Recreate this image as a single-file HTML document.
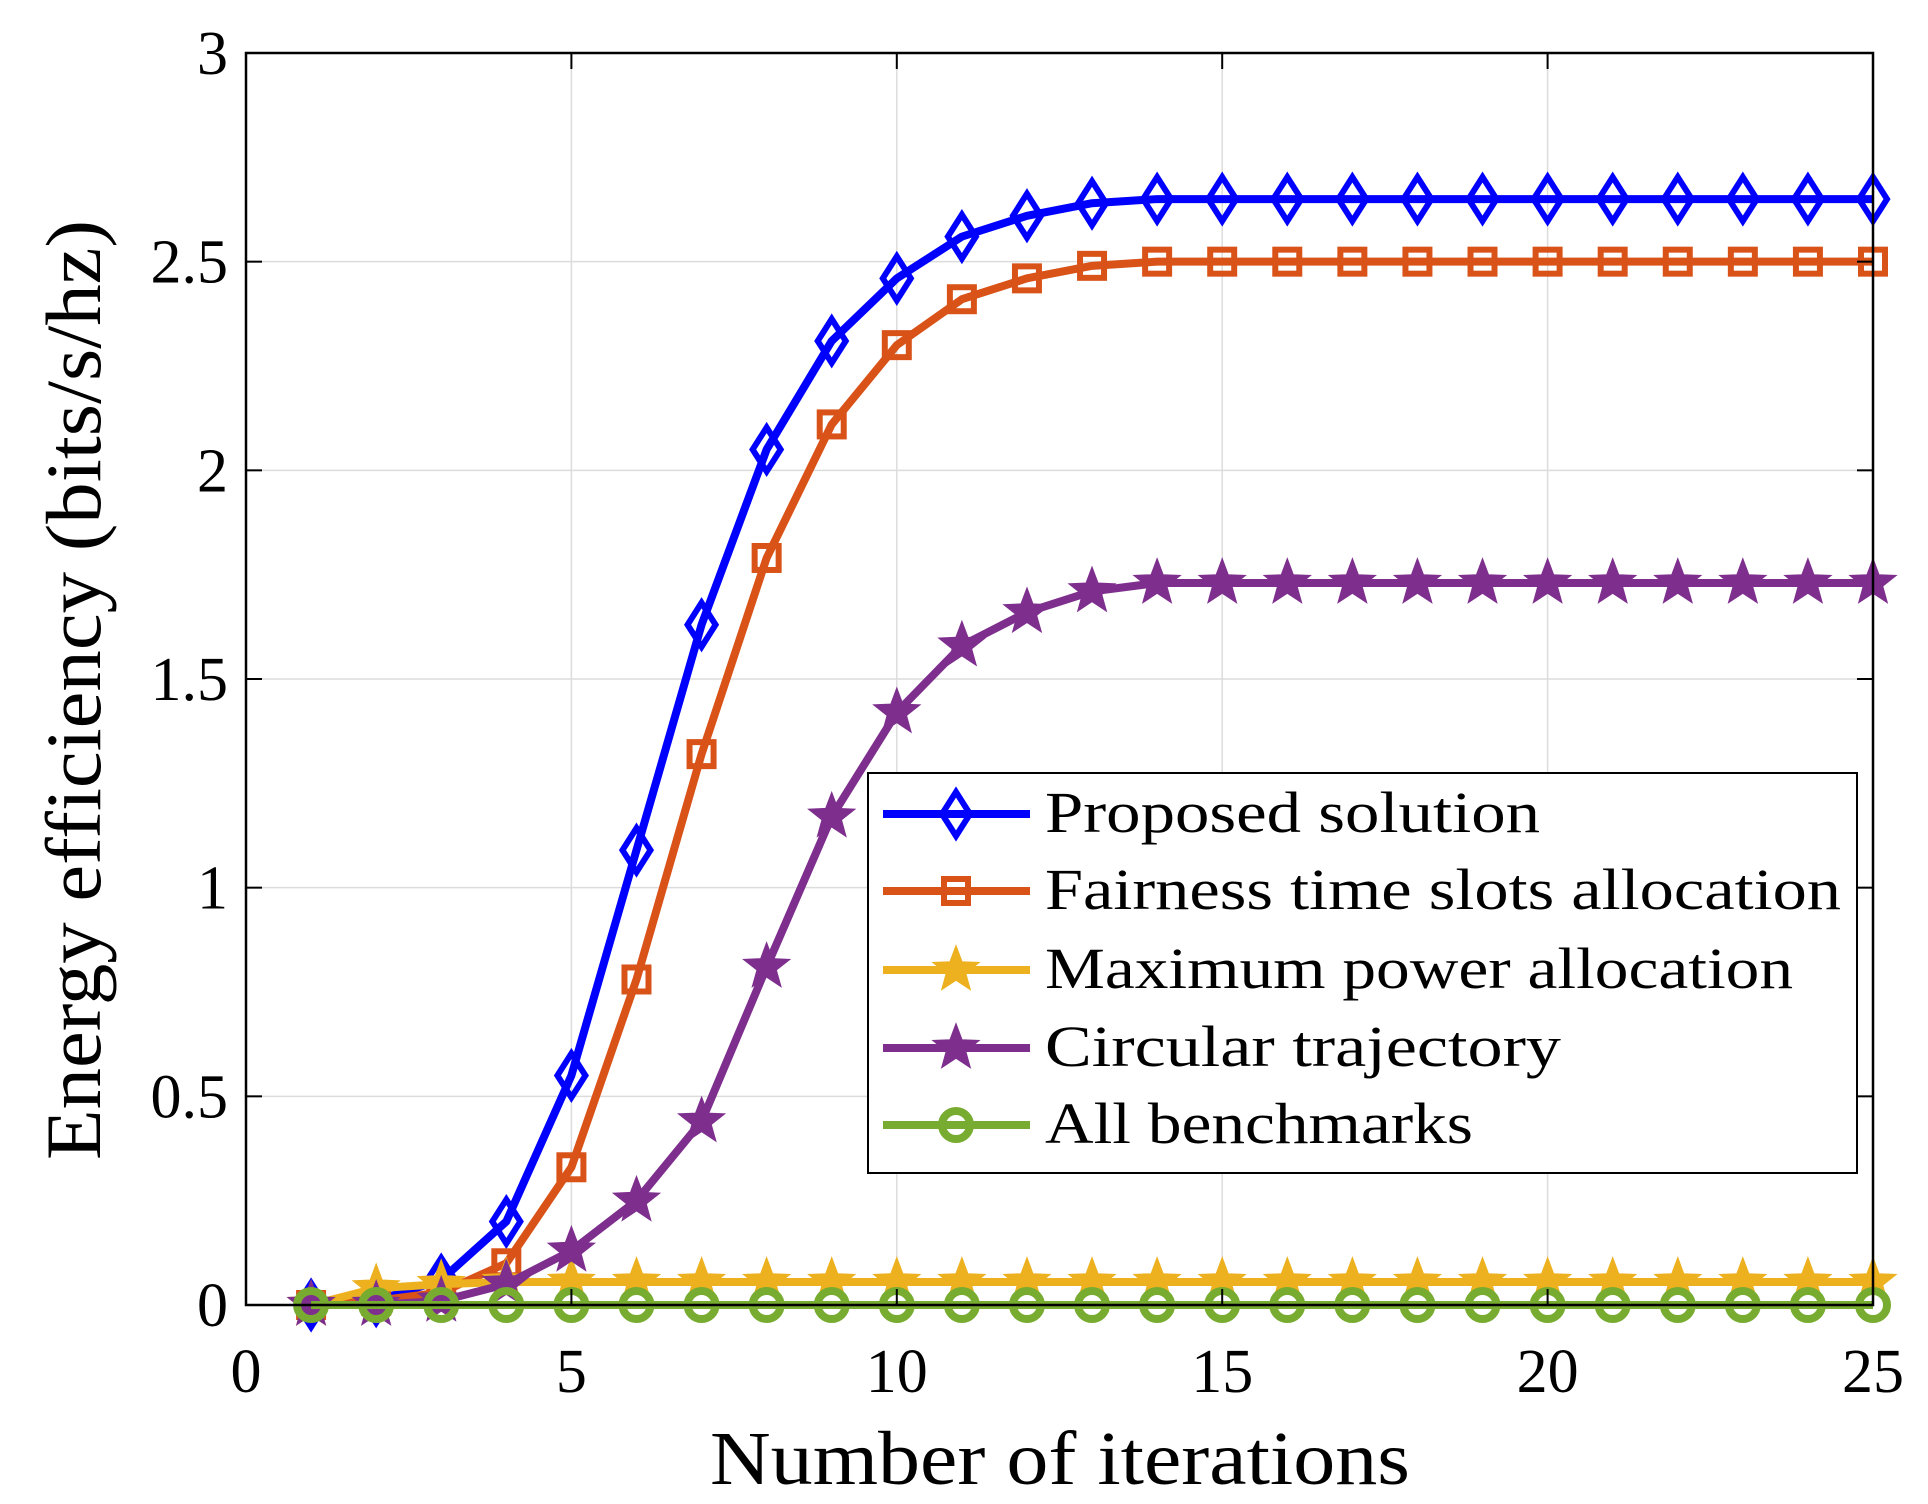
<!DOCTYPE html>
<html><head><meta charset="utf-8"><style>
html,body{margin:0;padding:0;background:#fff;}
svg{display:block;font-family:"Liberation Serif",serif;}
</style></head><body>
<svg id="chart" width="1928" height="1504" viewBox="0 0 1928 1504" xmlns="http://www.w3.org/2000/svg">
<rect width="1928" height="1504" fill="#fff"/>
<g id="grid"></g>
<g id="series"></g>
<rect x="246" y="53" width="1627" height="1252" fill="none" stroke="#000" stroke-width="2.5"/>
<g id="ticks"></g>
<text x="1060" y="1484" font-size="76" text-anchor="middle" textLength="700" lengthAdjust="spacingAndGlyphs">Number of iterations</text>
<text transform="translate(100,690) rotate(-90)" font-size="78" text-anchor="middle" textLength="940" lengthAdjust="spacingAndGlyphs">Energy efficiency (bits/s/hz)</text>
<g id="legend"></g>
</svg>
<script>
const iterations=[1,2,3,4,5,6,7,8,9,10,11,12,13,14,15,16,17,18,19,20,21,22,23,24,25];
const proposed=[0,0.01,0.06,0.2,0.55,1.09,1.63,2.05,2.31,2.46,2.56,2.61,2.64,2.65,2.65,2.65,2.65,2.65,2.65,2.65,2.65,2.65,2.65,2.65,2.65];
const fairness=[0,0.01,0.03,0.1,0.33,0.78,1.32,1.79,2.11,2.3,2.41,2.46,2.49,2.5,2.5,2.5,2.5,2.5,2.5,2.5,2.5,2.5,2.5,2.5,2.5];
const maxPower=[0,0.04,0.05,0.055,0.055,0.055,0.055,0.055,0.055,0.055,0.055,0.055,0.055,0.055,0.055,0.055,0.055,0.055,0.055,0.055,0.055,0.055,0.055,0.055,0.055];
const circular=[0,0,0.01,0.05,0.13,0.25,0.44,0.81,1.17,1.42,1.58,1.66,1.71,1.73,1.73,1.73,1.73,1.73,1.73,1.73,1.73,1.73,1.73,1.73,1.73];
const allBench=[0,0,0,0,0,0,0,0,0,0,0,0,0,0,0,0,0,0,0,0,0,0,0,0,0];
const xTicks=[0,5,10,15,20,25];
const yTicks=[0,0.5,1,1.5,2,2.5,3];
const yTickLabels=["0","0.5","1","1.5","2","2.5","3"];
const seriesNames=["Proposed solution","Fairness time slots allocation","Maximum power allocation","Circular trajectory","All benchmarks"];

const L=246,R=1873,T=53,B=1305;
const X=v=>L+(v-0)/(25-0)*(R-L);
const Y=v=>B-(v-0)/(3-0)*(B-T);
const NS="http://www.w3.org/2000/svg";
function mk(tag,attrs,parent){const e=document.createElementNS(NS,tag);for(const k in attrs)e.setAttribute(k,attrs[k]);parent.appendChild(e);return e;}
const grid=document.getElementById('grid'),ticks=document.getElementById('ticks'),ser=document.getElementById('series'),leg=document.getElementById('legend');
xTicks.forEach(t=>{
  const g=mk('line',{x1:X(t),x2:X(t),y1:T,y2:B,stroke:'#dcdcdc','stroke-width':1.5},grid);
  
  
  const a=mk('line',{x1:X(t),x2:X(t),y1:B,y2:B-16,stroke:'#000','stroke-width':2},ticks);
  
  
  const b=mk('line',{x1:X(t),x2:X(t),y1:T,y2:T+16,stroke:'#000','stroke-width':2},ticks);
  
  
  const tx=mk('text',{x:X(t),y:1392,'font-size':62,'text-anchor':'middle'},ticks);tx.textContent=t;
  
  
});
yTicks.forEach((t,i)=>{
  const g=mk('line',{x1:L,x2:R,y1:Y(t),y2:Y(t),stroke:'#dcdcdc','stroke-width':1.5},grid);
  
  
  const a=mk('line',{x1:L,x2:L+16,y1:Y(t),y2:Y(t),stroke:'#000','stroke-width':2},ticks);
  
  
  const b=mk('line',{x1:R,x2:R-16,y1:Y(t),y2:Y(t),stroke:'#000','stroke-width':2},ticks);
  
  
  const tx=mk('text',{x:228,y:Y(t)+21,'font-size':62,'text-anchor':'end'},ticks);tx.textContent=yTickLabels[i];
  
  
});
function star(cx,cy,r){let p=[];for(let i=0;i<10;i++){const a=-Math.PI/2+i*Math.PI/5;const rr=i%2?r*0.42:r;p.push((cx+rr*Math.cos(a)).toFixed(1)+','+(cy+rr*Math.sin(a)).toFixed(1));}return p.join(' ');}
function marker(type,cx,cy,color,parent){
  let m;
  if(type==='diamond')m=mk('polygon',{points:`${cx},${cy-22} ${cx+14},${cy} ${cx},${cy+22} ${cx-14},${cy}`,fill:'none',stroke:color,'stroke-width':6},parent);
  else if(type==='square')m=mk('rect',{x:cx-12,y:cy-12,width:24,height:24,fill:'none',stroke:color,'stroke-width':6},parent);
  else if(type==='star')m=mk('polygon',{points:star(cx,cy,23),fill:color,stroke:color,'stroke-width':2},parent);
  else m=mk('circle',{cx:cx,cy:cy,r:14,fill:'none',stroke:color,'stroke-width':8},parent);
  
  
}
const cfg=[[proposed,'#0000ff','diamond'],[fairness,'#d95319','square'],[maxPower,'#edb120','star'],[circular,'#7e2f8e','star'],[allBench,'#77ac30','circle']];
cfg.forEach(([d,c,m],si)=>{
  const g=mk('g',{},ser);
  
  
  const pl=mk('polyline',{points:iterations.map((x,i)=>X(x)+','+Y(d[i])).join(' '),fill:'none',stroke:c,'stroke-width':8,'stroke-linejoin':'round'},g);
  
  
  iterations.forEach((x,i)=>marker(m,X(x),Y(d[i]),c,g));
});
const lb=mk('rect',{x:868,y:773,width:989,height:400,fill:'#fff',stroke:'#000','stroke-width':2},leg);


const legY=[814,891,970,1048,1125];
const legW=[495,796,748,516,428];
cfg.forEach(([d,c,m],i)=>{
  const g=mk('g',{},leg);
  
  
  mk('line',{x1:883,x2:1030,y1:legY[i],y2:legY[i],stroke:c,'stroke-width':8},g);
  marker(m,956,legY[i],c,g);
  const t=mk('text',{x:1045,y:legY[i]+18,'font-size':58,textLength:legW[i],lengthAdjust:'spacingAndGlyphs'},g);
  t.textContent=seriesNames[i];
  
  
});
</script>
</body></html>
